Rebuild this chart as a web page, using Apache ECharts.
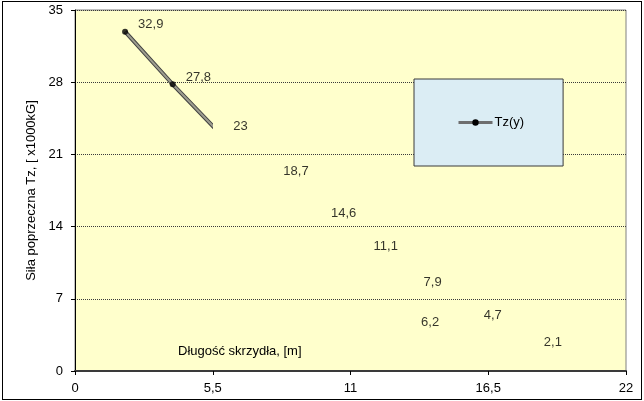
<!DOCTYPE html>
<html>
<head>
<meta charset="utf-8">
<script src="https://cdn.jsdelivr.net/npm/echarts@6/dist/echarts.min.js"></script>
<style>
  html, body { margin: 0; padding: 0; background: #ffffff; }
  #chart { position: absolute; left: 0; top: 0; width: 644px; height: 401px; }
  #frame { position: absolute; left: 2px; top: 1px; width: 638px; height: 397px; border: 1px solid #000; pointer-events: none; }
</style>
</head>
<body>
<div id="chart"></div>
<div id="frame"></div>
<script>
// Rozkład siły poprzecznej wzdłuż skrzydła
const spanPositions = [2, 3.9, 5.8, 7.8, 9.7, 11.4, 13.4, 13.3, 15.8, 18.2];   // y [m]
const shearForce    = [32.9, 27.8, 23, 18.7, 14.6, 11.1, 7.9, 6.2, 4.7, 2.1];  // Tz [x1000kG]
const xTicks = [0, 5.5, 11, 16.5, 22];
const yTicks = [0, 7, 14, 21, 28, 35];
const seriesName = 'Tz(y)';
const xTitle = 'Długość skrzydła, [m]';
const yTitle = 'Siła poprzeczna Tz, [ x1000kG]';

const FONT = '"Liberation Sans", Arial, sans-serif';
const FS = 13;
const comma = v => String(v).replace('.', ',');
const xMin = xTicks[0], xMax = xTicks[xTicks.length - 1];
const lineLimit = 5.5;                // line is drawn only up to this span
const labelShift = { 5: -10, 7: 15 }; // per-point vertical label tweaks

const points = spanPositions.map((x, i) => [x, shearForce[i]]);
const labelled = points.map((p, i) => ({
  value: p,
  label: { offset: [0, labelShift[i] !== undefined ? labelShift[i] : -7] }
}));

const chart = echarts.init(document.getElementById('chart'), null, { renderer: 'canvas' });

const hideBeyond = (idx, color) => ({
  type: 'piecewise', show: false, seriesIndex: idx, dimension: 0,
  pieces: [
    { gte: xMin, lte: lineLimit, color: color },
    { gt: lineLimit, lte: xMax, color: 'rgba(0,0,0,0)' }
  ],
  outOfRange: { color: 'rgba(0,0,0,0)' }
});

chart.setOption({
  animation: false,
  backgroundColor: '#ffffff',
  textStyle: { fontFamily: FONT },
  grid: {
    left: 75, right: 18, top: 10, bottom: 30,
    show: true, backgroundColor: '#ffffcc', borderColor: '#808080', borderWidth: 1
  },
  xAxis: {
    type: 'value',
    min: xMin, max: xMax, interval: xTicks[1] - xTicks[0],
    axisLine: { show: true, onZero: false, lineStyle: { color: '#3a3a3a', width: 2 } },
    axisTick: { show: true, length: 4, lineStyle: { color: '#000' } },
    axisLabel: { color: '#000', fontSize: FS, fontFamily: FONT, margin: 11, formatter: comma },
    splitLine: { show: false }
  },
  yAxis: {
    type: 'value',
    min: yTicks[0], max: yTicks[yTicks.length - 1], interval: yTicks[1] - yTicks[0],
    name: yTitle, nameLocation: 'middle', nameGap: 36,
    nameTextStyle: { color: '#000', fontSize: FS, fontFamily: FONT },
    axisLine: { show: true, lineStyle: { color: '#000', width: 1 } },
    axisTick: { show: true, length: 4, lineStyle: { color: '#000' } },
    axisLabel: { color: '#000', fontSize: FS, fontFamily: FONT, margin: 12, formatter: comma },
    splitLine: { show: true, lineStyle: { color: '#3a3a3a', width: 1, type: [1, 1] } }
  },
  legend: {
    data: [{
      name: seriesName,
      itemStyle: { color: '#000' },
      lineStyle: { color: '#6e6e6e', width: 3 }
    }],
    left: 414, top: 79,
    padding: [37, 39, 37, 43],
    itemWidth: 34, itemHeight: 8,
    backgroundColor: '#dbedf4', borderColor: '#3a3a3a', borderWidth: 1,
    textStyle: { color: '#000', fontSize: FS, fontFamily: FONT, padding: [0, 0, 0, -3] }
  },
  visualMap: [
    hideBeyond(0, '#404040'),
    hideBeyond(1, '#9c9c8e'),
    hideBeyond(2, '#000000')
  ],
  graphic: [{
    type: 'text', left: 178, top: 345,
    style: { text: xTitle, fill: '#000', font: FS + 'px ' + FONT }
  }],
  series: [
    {
      name: seriesName, type: 'line', data: points,
      symbol: 'none', silent: true, z: 2,
      lineStyle: { width: 4 }
    },
    {
      name: seriesName, type: 'line', data: points,
      symbol: 'circle', symbolSize: 0, silent: true, z: 3,
      lineStyle: { width: 2 }
    },
    {
      name: 'punkty', type: 'scatter', data: labelled,
      symbol: 'circle', symbolSize: 6, z: 4,
      label: {
        show: true, position: 'right', distance: 10,
        color: '#000', fontSize: FS, fontFamily: FONT,
        formatter: p => comma(p.value[1])
      }
    }
  ]
});
</script>
</body>
</html>
